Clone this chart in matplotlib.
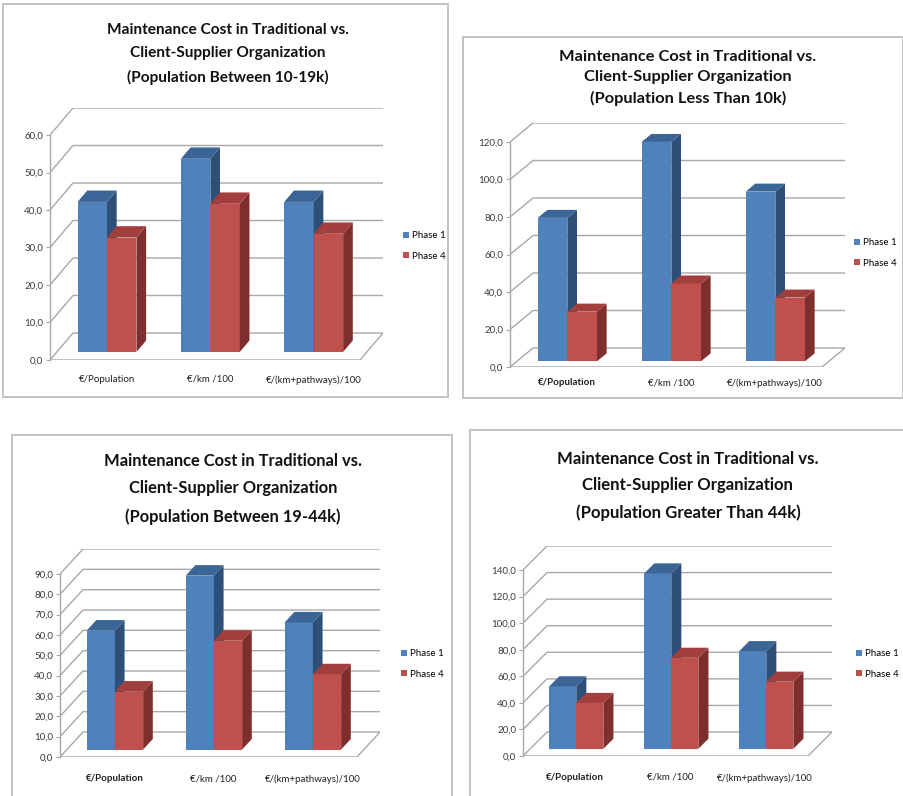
import matplotlib
matplotlib.use('Agg')
import matplotlib.pyplot as plt
from matplotlib.patches import Polygon, Rectangle
from matplotlib.ticker import FuncFormatter

plt.rcParams['font.family'] = ['Lato', 'DejaVu Sans']

W, H = 904, 796

categories = ['€/Population', '€/km /100', '€/(km+pathways)/100']
series = ['Phase 1', 'Phase 4']

titles = [
    'Maintenance Cost in Traditional vs.\nClient-Supplier Organization\n(Population Between 10-19k)',
    'Maintenance Cost in Traditional vs.\nClient-Supplier Organization\n(Population Less Than 10k)',
    'Maintenance Cost in Traditional vs.\nClient-Supplier Organization\n(Population Between 19-44k)',
    'Maintenance Cost in Traditional vs.\nClient-Supplier Organization\n(Population Greater Than 44k)',
]

pop_10_19k_phase1 = [40.0, 51.5, 40.0]
pop_10_19k_phase4 = [30.5, 39.5, 31.5]
pop_lt_10k_phase1 = [76.5, 117.0, 90.5]
pop_lt_10k_phase4 = [26.5, 41.5, 34.0]
pop_19_44k_phase1 = [58.5, 85.5, 62.5]
pop_19_44k_phase4 = [28.5, 53.5, 37.0]
pop_gt_44k_phase1 = [47.0, 132.0, 73.5]
pop_gt_44k_phase4 = [34.5, 68.5, 50.5]

y_max = [60, 120, 90, 140]
y_step = [10, 20, 10, 20]

# pixel layout of each chart box:
# frame, axis x, zero y, top tick y, floor right, wall right, top gridline y,
# title centre (x, y) + size + line spacing, legend left/centre y, category label y
layout = [
    dict(frame=(3, 4, 448, 397), ax_x=50, zero_y=360, top_y=135, floor_r=360, wall_r=383, grid_top=108,
         title=(228, 54), tsize=11.1, tls=1.86, legend=(403, 246), cat_y=380, bold_first=False),
    dict(frame=(463, 37, 903, 398), ax_x=510, zero_y=367, top_y=142, floor_r=822, wall_r=845, grid_top=123,
         title=(688, 78), tsize=11.8, tls=1.53, legend=(854, 253), cat_y=383, bold_first=True),
    dict(frame=(12, 435, 452, 800), ax_x=60, zero_y=757, top_y=574, floor_r=357, wall_r=380, grid_top=549,
         title=(233, 489), tsize=11.9, tls=1.91, legend=(401, 664), cat_y=779, bold_first=True),
    dict(frame=(470, 430, 910, 800), ax_x=523, zero_y=756, top_y=570, floor_r=808, wall_r=832, grid_top=546,
         title=(688, 486), tsize=12.1, tls=1.82, legend=(856, 664), cat_y=778, bold_first=True),
]

data = [
    (pop_10_19k_phase1, pop_10_19k_phase4),
    (pop_lt_10k_phase1, pop_lt_10k_phase4),
    (pop_19_44k_phase1, pop_19_44k_phase4),
    (pop_gt_44k_phase1, pop_gt_44k_phase4),
]

FRONT = ['#4F81BD', '#C0504D']
SIDE = ['#2E5078', '#7E2F2D']
TOP = ['#3B6596', '#A23E3B']
GRID = '#A8A8A8'
Z0, Z1 = 0.30, 0.72
BAR_W = 0.285
BAR_OFF = 0.2

fig = plt.figure(figsize=(W / 100, H / 100), dpi=100)
fig.patch.set_facecolor('white')


def draw_chart(k):
    L = layout[k]
    p1, p4 = data[k]
    ymax = y_max[k]
    cat_px = (L['floor_r'] - L['ax_x']) / 3.0
    dx = (L['wall_r'] - L['floor_r']) / cat_px
    dy = (L['top_y'] - L['grid_top']) / (L['zero_y'] - L['top_y']) * ymax

    ax = fig.add_axes([L['ax_x'] / W, 1 - L['zero_y'] / H,
                       (L['wall_r'] - L['ax_x']) / W, (L['zero_y'] - L['grid_top']) / H])
    ax.set_xlim(0, 3 + dx)
    ax.set_ylim(0, ymax + dy)
    ax.patch.set_alpha(0)
    for s in ['top', 'right', 'bottom']:
        ax.spines[s].set_visible(False)
    ax.spines['left'].set_bounds(0, ymax)
    ax.spines['left'].set_color(GRID)
    ax.spines['left'].set_linewidth(1.0)

    # back wall gridlines and floor
    ticks = list(range(0, ymax + 1, y_step[k]))
    for v in ticks:
        ax.plot([0, dx, 3 + dx], [v, v + dy, v + dy], color=GRID, lw=1.0, zorder=1)
    ax.plot([0, 3, 3 + dx], [0, 0, dy], color=GRID, lw=1.0, zorder=1)

    ax.set_yticks(ticks)
    ax.yaxis.set_major_formatter(FuncFormatter(lambda v, p: f'{v:.1f}'.replace('.', ',')))
    ax.tick_params(axis='y', length=3, width=0.8, color=GRID, labelsize=7,
                   labelcolor='#3A3A3A', pad=2)

    ax.set_xticks([i + 0.55 for i in range(3)])
    ax.set_xticklabels(categories)
    pad = (L['cat_y'] - L['zero_y'] - 5) * 0.72
    ax.tick_params(axis='x', length=0, labelsize=7, labelcolor='#202020', pad=pad)
    if L['bold_first']:
        ax.get_xticklabels()[0].set_fontweight('bold')

    # 3-D looking columns: front face, right side, top
    for i in range(3):
        for j, vals in enumerate((p1, p4)):
            v = vals[i]
            xl = i + BAR_OFF + j * BAR_W + Z0 * dx
            xr = xl + BAR_W
            b0 = Z0 * dy
            sx = (Z1 - Z0) * dx
            sy = (Z1 - Z0) * dy
            ax.bar(xl, v, width=BAR_W, bottom=b0, align='edge', color=FRONT[j],
                   linewidth=0, zorder=3 + i * 2 + j)
            ax.add_patch(Polygon([(xr, b0), (xr + sx, b0 + sy), (xr + sx, b0 + sy + v), (xr, b0 + v)],
                                 closed=True, facecolor=SIDE[j], edgecolor='none', zorder=3 + i * 2 + j))
            ax.add_patch(Polygon([(xl, b0 + v), (xr, b0 + v), (xr + sx, b0 + sy + v), (xl + sx, b0 + sy + v)],
                                 closed=True, facecolor=TOP[j], edgecolor='none', zorder=3 + i * 2 + j))

    handles = [Rectangle((0, 0), 1, 1, facecolor=c, edgecolor='none') for c in FRONT]
    ax.legend(handles, series, loc='center left',
              bbox_to_anchor=(L['legend'][0] / W, 1 - L['legend'][1] / H),
              bbox_transform=fig.transFigure, frameon=False, fontsize=7,
              handlelength=0.6, handleheight=0.6, handletextpad=0.3,
              labelspacing=1.2, borderpad=0, borderaxespad=0)

    fig.text(L['title'][0] / W, 1 - L['title'][1] / H, titles[k], ha='center', va='center',
             fontsize=L['tsize'], fontweight='bold', color='#111111', linespacing=L['tls'])

    x0, y0, x1, y1 = L['frame']
    fig.add_artist(Rectangle((x0 / W, 1 - y1 / H), (x1 - x0) / W, (y1 - y0) / H,
                             transform=fig.transFigure, fill=False, edgecolor='#BEBEBE', lw=1.3))


for k in range(4):
    draw_chart(k)

fig.savefig('out.png', dpi=100)
